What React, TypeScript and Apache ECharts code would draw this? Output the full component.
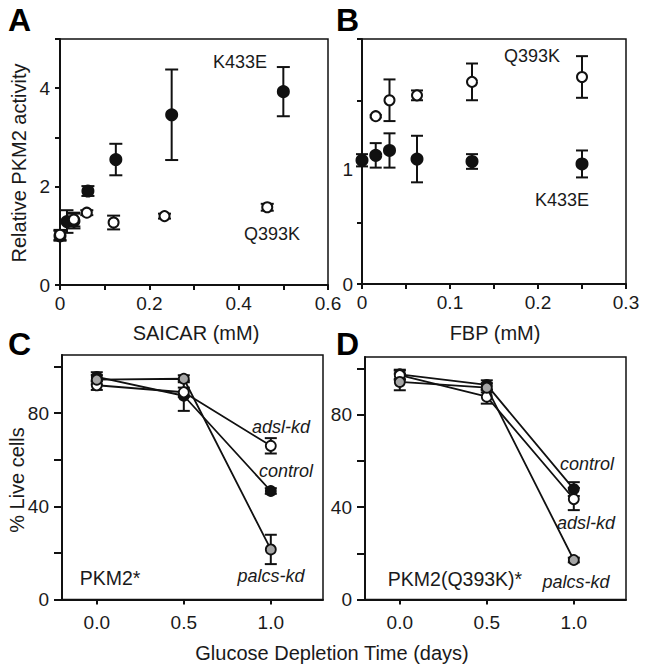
import React, { useEffect, useRef } from "react";
import * as echarts from "echarts";

// ---------- Panel A: SAICAR (mM) vs relative PKM2 activity ----------
const saicarK433E_x = [0, 0.0156, 0.03125, 0.0625, 0.125, 0.25, 0.5];
const saicarK433E_y = [1.0, 1.29, 1.3, 1.91, 2.55, 3.46, 3.93];
const saicarK433E_err = [0.1, 0.23, 0.15, 0.1, 0.32, 0.92, 0.5];

const saicarQ393K_x = [0, 0.031, 0.06, 0.12, 0.234, 0.464];
const saicarQ393K_y = [1.02, 1.33, 1.47, 1.27, 1.4, 1.58];
const saicarQ393K_err = [0.1, 0.14, 0.05, 0.14, 0.05, 0.07];

// ---------- Panel B: FBP (mM) vs relative PKM2 activity ----------
const fbpK433E_x = [0, 0.0156, 0.03125, 0.0625, 0.125, 0.25];
const fbpK433E_y = [1.01, 1.05, 1.09, 1.02, 1.0, 0.98];
const fbpK433E_err = [0.05, 0.1, 0.14, 0.19, 0.06, 0.11];

const fbpQ393K_x = [0.0156, 0.03125, 0.0625, 0.125, 0.25];
const fbpQ393K_y = [1.37, 1.5, 1.54, 1.65, 1.69];
const fbpQ393K_err = [0.01, 0.17, 0.04, 0.15, 0.17];

// ---------- Panels C, D: glucose depletion time (days) vs % live cells ----------
const days = [0, 0.5, 1.0];

const cControl = [95.6, 87.5, 46.6];
const cControlErr = [2, 6.5, 1.2];
const cAdsl = [92, 89, 66];
const cAdslErr = [2, 2, 3.3];
const cPalcs = [94.4, 94.8, 21.5];
const cPalcsErr = [2, 1.5, 6.3];

const dControl = [97.5, 92.9, 47.8];
const dControlErr = [2, 2, 3];
const dAdsl = [97.1, 87.8, 43.5];
const dAdslErr = [2, 3, 4.8];
const dPalcs = [94.2, 91.7, 17.1];
const dPalcsErr = [3.6, 2, 1];

// tick / label positions
const aXTicks = [0, 0.1, 0.2, 0.3, 0.4, 0.5, 0.6];
const aXLabels = [0, 0.2, 0.4, 0.6];
const aYTicks = [0, 1, 2, 3, 4, 5];
const aYLabels = [0, 2, 4];
const bXTicks = [0, 0.05, 0.1, 0.15, 0.2, 0.25, 0.3];
const bXLabels = [0, 0.1, 0.2, 0.3];
const bYTicks = [0, 0.5, 1, 1.5, 2];
const bYLabels = [0, 1];
const dayTicks = [0, 0.5, 1.0];
const liveTicks = [0, 20, 40, 60, 80, 100];
const liveLabels = [0, 40, 80];

const FONT = "'Liberation Sans', Arial, Helvetica, sans-serif";
const INK = "#111";
const GREY = "#a6a6a6";

function pairs(xs: number[], ys: number[]) {
  return xs.map((x, i) => [x, ys[i]]);
}

function errSeries(xs: number[], ys: number[], errs: number[], idx: number, capHalf: number) {
  return {
    type: "custom",
    xAxisIndex: idx,
    yAxisIndex: idx,
    z: 2,
    silent: true,
    encode: { x: 0, y: [1, 2] },
    data: xs.map((x, i) => [x, ys[i] - errs[i], ys[i] + errs[i]]),
    renderItem: (_params: any, api: any) => {
      const x = api.value(0);
      const top = api.coord([x, api.value(2)]);
      const bot = api.coord([x, api.value(1)]);
      const st = { stroke: INK, lineWidth: 2 };
      return {
        type: "group",
        children: [
          { type: "line", shape: { x1: top[0], y1: top[1], x2: bot[0], y2: bot[1] }, style: st },
          { type: "line", shape: { x1: top[0] - capHalf, y1: top[1], x2: top[0] + capHalf, y2: top[1] }, style: st },
          { type: "line", shape: { x1: bot[0] - capHalf, y1: bot[1], x2: bot[0] + capHalf, y2: bot[1] }, style: st },
        ],
      };
    },
  };
}

function scatter(xs: number[], ys: number[], idx: number, fill: string, size: number) {
  return {
    type: "scatter",
    xAxisIndex: idx,
    yAxisIndex: idx,
    z: 4,
    symbol: "circle",
    symbolSize: size,
    itemStyle: { color: fill, borderColor: INK, borderWidth: 2, opacity: 1 },
    data: pairs(xs, ys),
  };
}

function lineSeries(ys: number[], idx: number, fill: string, z: number) {
  return {
    type: "line",
    xAxisIndex: idx,
    yAxisIndex: idx,
    z,
    symbol: "circle",
    symbolSize: 10,
    showAllSymbol: true,
    lineStyle: { color: INK, width: 1.8 },
    itemStyle: { color: fill, borderColor: INK, borderWidth: 1.8 },
    data: pairs(days, ys),
  };
}

function valueAxis(
  idx: number,
  min: number,
  max: number,
  ticks: number[],
  labels: number[],
  tickLen: number,
  margin: number,
  fmt?: (v: number) => string,
  rich?: any
) {
  return {
    type: "value",
    gridIndex: idx,
    min,
    max,
    axisLine: { show: true, onZero: false, lineStyle: { color: INK, width: 2 } },
    axisTick: { show: true, inside: false, length: tickLen, customValues: ticks, lineStyle: { color: INK, width: 2 } },
    axisLabel: {
      show: true,
      customValues: labels,
      fontSize: 19,
      fontFamily: FONT,
      color: "#1a1a1a",
      margin,
      formatter: fmt ? (v: number) => fmt(v) : (v: number) => String(v),
      rich: rich || {},
    },
    splitLine: { show: false },
  };
}

function txt(text: string, x: number, y: number, opts: any = {}) {
  return {
    type: "text",
    x,
    y,
    rotation: opts.rotation || 0,
    style: {
      text,
      fill: opts.fill || "#1a1a1a",
      font: `${opts.style || "normal"} ${opts.weight || "normal"} ${opts.size || 18}px ${FONT}`,
      align: "center",
      verticalAlign: "middle",
    },
  };
}

export default function App() {
  const ref = useRef<HTMLDivElement>(null);

  useEffect(() => {
    document.body.style.margin = "0";
    if (!ref.current) return;
    const chart = echarts.init(ref.current, null, { renderer: "svg" });
    const gridBase = { show: true, borderColor: INK, borderWidth: 1.5, backgroundColor: "transparent", containLabel: false };
    const dayFmt = (v: number) => v.toFixed(1);
    // the "1" label in panel B sits slightly below its tick in the original
    const bYFmt = (v: number) => (v === 1 ? "{low|1}" : String(v));
    const bYRich = { low: { fontSize: 19, fontFamily: FONT, color: "#1a1a1a", padding: [16, 0, 0, 0] } };

    chart.setOption({
      animation: false,
      backgroundColor: "#fff",
      grid: [
        { ...gridBase, left: 60, top: 39, width: 268, height: 246 },
        { ...gridBase, left: 362, top: 39, width: 264, height: 245 },
        { ...gridBase, left: 62, top: 355, width: 261, height: 244.5 },
        { ...gridBase, left: 365, top: 357, width: 261, height: 242.5 },
      ],
      xAxis: [
        valueAxis(0, 0, 0.6, aXTicks, aXLabels, 5, 9),
        valueAxis(1, 0, 0.3, bXTicks, bXLabels, 5, 9),
        valueAxis(2, -0.2, 1.3, dayTicks, dayTicks, 5, 13, dayFmt),
        valueAxis(3, -0.2, 1.3, dayTicks, dayTicks, 5, 13, dayFmt),
      ],
      yAxis: [
        valueAxis(0, 0, 5, aYTicks, aYLabels, 5, 10),
        valueAxis(1, 0, 2, bYTicks, bYLabels, 5, 9, bYFmt, bYRich),
        valueAxis(2, 0, 105, liveTicks, liveLabels, 8, 13),
        valueAxis(3, 0, 105, liveTicks, liveLabels, 8, 13),
      ],
      series: [
        // A
        errSeries(saicarK433E_x, saicarK433E_y, saicarK433E_err, 0, 6.5),
        errSeries(saicarQ393K_x, saicarQ393K_y, saicarQ393K_err, 0, 6.5),
        scatter(saicarK433E_x, saicarK433E_y, 0, INK, 11),
        scatter(saicarQ393K_x, saicarQ393K_y, 0, "#fff", 10),
        // B
        errSeries(fbpK433E_x, fbpK433E_y, fbpK433E_err, 1, 6),
        errSeries(fbpQ393K_x, fbpQ393K_y, fbpQ393K_err, 1, 6),
        scatter(fbpQ393K_x, fbpQ393K_y, 1, "#fff", 10),
        scatter(fbpK433E_x, fbpK433E_y, 1, INK, 11),
        // C
        errSeries(days, cControl, cControlErr, 2, 6),
        errSeries(days, cAdsl, cAdslErr, 2, 6),
        errSeries(days, cPalcs, cPalcsErr, 2, 6),
        lineSeries(cControl, 2, INK, 4),
        lineSeries(cAdsl, 2, "#fff", 5),
        lineSeries(cPalcs, 2, GREY, 6),
        // D
        errSeries(days, dControl, dControlErr, 3, 6),
        errSeries(days, dAdsl, dAdslErr, 3, 6),
        errSeries(days, dPalcs, dPalcsErr, 3, 6),
        lineSeries(dControl, 3, INK, 4),
        lineSeries(dAdsl, 3, "#fff", 5),
        lineSeries(dPalcs, 3, GREY, 6),
      ],
      graphic: [
        // panel letters
        txt("A", 19.5, 20, { weight: "bold", size: 32, fill: "#000" }),
        txt("B", 347.5, 20, { weight: "bold", size: 32, fill: "#000" }),
        txt("C", 19.5, 344, { weight: "bold", size: 32, fill: "#000" }),
        txt("D", 347.5, 344, { weight: "bold", size: 32, fill: "#000" }),
        // axis titles
        txt("Relative PKM2 activity", 19, 163, { rotation: Math.PI / 2, size: 20 }),
        txt("SAICAR (mM)", 196, 333, { size: 20 }),
        txt("FBP (mM)", 495, 333, { size: 20 }),
        txt("% Live cells", 17, 480, { rotation: Math.PI / 2, size: 20 }),
        txt("Glucose Depletion Time (days)", 332, 653, { size: 20 }),
        // annotations
        txt("K433E", 240, 62),
        txt("Q393K", 272, 234),
        txt("Q393K", 532, 56),
        txt("K433E", 562, 200),
        txt("adsl-kd", 281, 427, { style: "italic" }),
        txt("control", 286, 471, { style: "italic" }),
        txt("palcs-kd", 271, 576, { style: "italic" }),
        txt("PKM2*", 110, 578, { size: 19.5 }),
        txt("control", 587, 464, { style: "italic" }),
        txt("adsl-kd", 586, 523, { style: "italic" }),
        txt("palcs-kd", 576, 582, { style: "italic" }),
        txt("PKM2(Q393K)*", 455, 579, { size: 19.5 }),
      ],
    });
    return () => chart.dispose();
  }, []);

  return <div ref={ref} style={{ width: 649, height: 670 }} />;
}
